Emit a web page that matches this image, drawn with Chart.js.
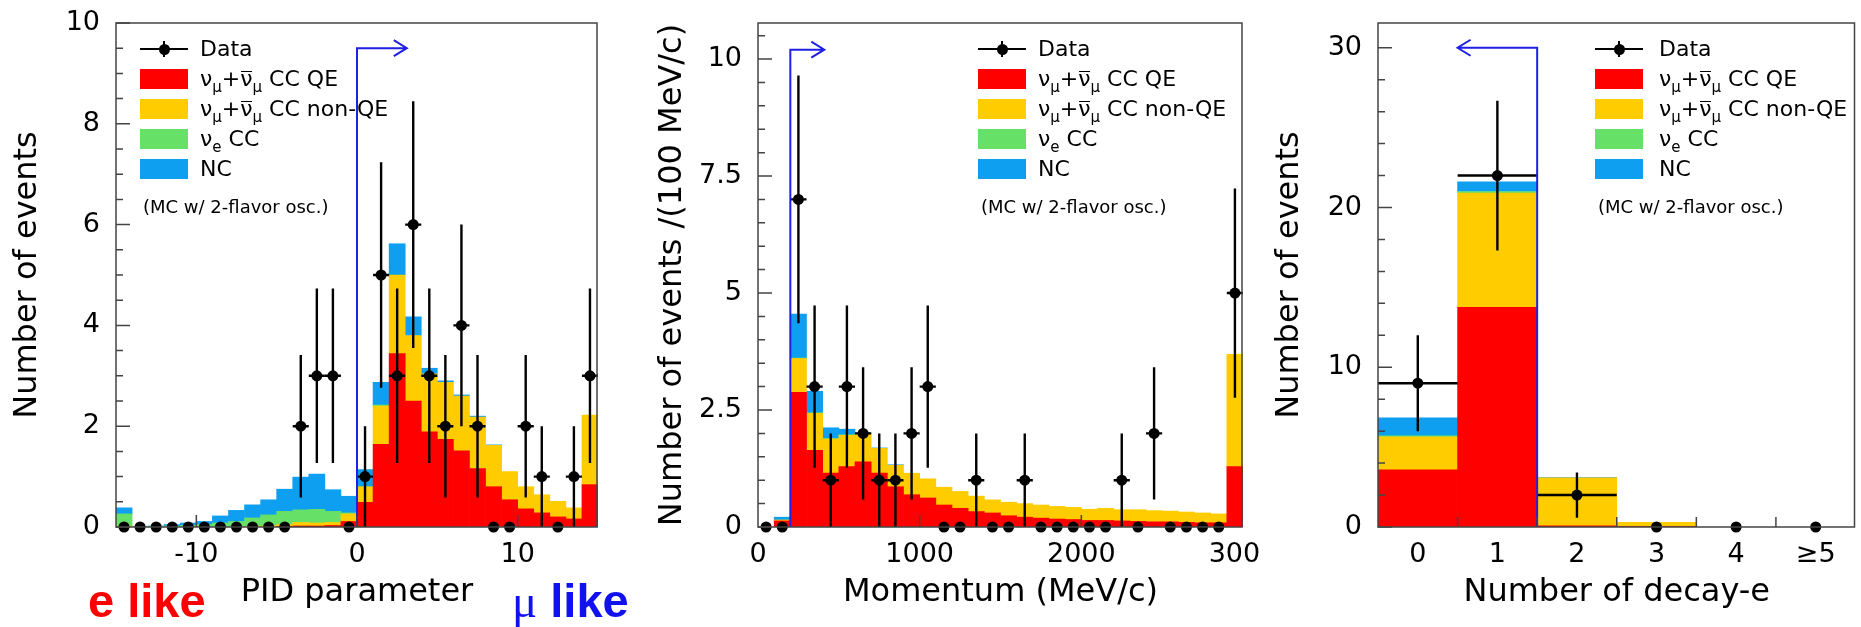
<!DOCTYPE html>
<html>
<head>
<meta charset="utf-8">
<title>mu-like selection: PID, momentum, decay-e</title>
<script src="https://cdn.jsdelivr.net/npm/chart.js@4.4.1/dist/chart.umd.min.js"></script>
<style>
  html, body { margin: 0; padding: 0; background: #fff; }
  body { position: relative; width: 1861px; height: 627px; overflow: hidden; font-family: 'DejaVu Sans', sans-serif; color: #000; }
  canvas { position: absolute; top: 0; background: #fff; }
  .sw { position: absolute; width: 48px; height: 20px; }
  .lt { position: absolute; font-size: 22px; line-height: 30px; height: 30px; white-space: nowrap; }
  .lt sub { font-size: 15px; vertical-align: -6px; line-height: 0; }
  .ov { position: relative; }
  .ov::before { content: ''; position: absolute; left: 1px; right: 1px; top: 5px; border-top: 1.6px solid #000; }
  .note { position: absolute; font-size: 18px; line-height: 20px; white-space: nowrap; }
  .mk { position: absolute; background: #000; }
  .tag { position: absolute; top: 577px; line-height: 47px; font-size: 47px; font-weight: bold; font-family: 'Liberation Sans', Arial, sans-serif; white-space: nowrap; }
</style>
</head>
<body>
<canvas id="pidChart" width="620" height="627" style="left:0"></canvas>
<canvas id="momChart" width="622" height="627" style="left:640px"></canvas>
<canvas id="dcyChart" width="599" height="627" style="left:1262px"></canvas>
<div class="tag" style="left:88px;color:#ff0000">e like</div>
<div class="tag" style="left:512px;color:#1010f0"><span style="font-family:'Liberation Serif',serif;font-weight:normal">μ</span> like</div>
<script>
// --- PID parameter (bins of 1) ---
const pidCenters = [-14.5, -13.5, -12.5, -11.5, -10.5, -9.5, -8.5, -7.5, -6.5, -5.5, -4.5, -3.5, -2.5, -1.5, -0.5,
                    0.5, 1.5, 2.5, 3.5, 4.5, 5.5, 6.5, 7.5, 8.5, 9.5, 10.5, 11.5, 12.5, 13.5, 14.5];
const pidCCQE  = [0, 0, 0, 0, 0, 0, 0, 0, 0, 0, 0.01, 0.02, 0.02, 0.03, 0.11,
                  0.49, 1.64, 3.44, 2.50, 1.89, 1.74, 1.51, 1.16, 0.80, 0.54, 0.36, 0.28, 0.20, 0.16, 0.84];
const pidNonQE = [0.02, 0, 0, 0, 0, 0, 0, 0, 0.01, 0.02, 0.04, 0.07, 0.06, 0.06, 0.15,
                  0.31, 0.76, 1.56, 1.30, 1.15, 1.13, 1.09, 1.02, 0.82, 0.56, 0.44, 0.36, 0.31, 0.22, 1.38];
const pidNueCC = [0.24, 0.005, 0.01, 0.02, 0.03, 0.05, 0.08, 0.11, 0.17, 0.22, 0.26, 0.25, 0.27, 0.22, 0.02,
                  0, 0.02, 0, 0, 0, 0, 0, 0, 0, 0, 0, 0, 0, 0, 0];
const pidNC    = [0.12, 0.005, 0.01, 0.03, 0.05, 0.06, 0.14, 0.22, 0.26, 0.30, 0.44, 0.65, 0.70, 0.43, 0.33,
                  0.34, 0.45, 0.62, 0.37, 0.11, 0.03, 0.02, 0.02, 0.01, 0, 0, 0, 0, 0, 0];
const pidData  = [0, 0, 0, 0, 0, 0, 0, 0, 0, 0, 0, 2, 3, 3, 0,
                  1, 5, 3, 6, 3, 2, 4, 2, 0, 0, 2, 1, 0, 1, 3];
const pidTicksX = [-10, 0, 10];
const pidTicksY = [0, 2, 4, 6, 8, 10];

// --- Momentum (100 MeV/c bins) ---
const momCenters = [50, 150, 250, 350, 450, 550, 650, 750, 850, 950, 1050, 1150, 1250, 1350, 1450,
                    1550, 1650, 1750, 1850, 1950, 2050, 2150, 2250, 2350, 2450, 2550, 2650, 2750, 2850, 2950];
const momCCQE  = [0, 0.13, 2.88, 1.64, 1.15, 1.29, 1.39, 1.15, 0.86, 0.69, 0.62, 0.47, 0.40, 0.33, 0.30,
                  0.24, 0.21, 0.19, 0.17, 0.16, 0.14, 0.14, 0.13, 0.12, 0.11, 0.11, 0.10, 0.09, 0.09, 1.29];
const momNonQE = [0, 0.02, 0.72, 0.79, 0.73, 0.67, 0.60, 0.53, 0.46, 0.46, 0.41, 0.38, 0.36, 0.33, 0.28,
                  0.29, 0.29, 0.28, 0.27, 0.26, 0.24, 0.26, 0.24, 0.25, 0.24, 0.23, 0.22, 0.21, 0.19, 2.40];
const momNueCC = [0, 0, 0.01, 0.01, 0.01, 0.01, 0, 0, 0, 0, 0, 0, 0, 0, 0,
                  0, 0, 0, 0, 0, 0, 0, 0, 0, 0, 0, 0, 0, 0, 0];
const momNC    = [0, 0.06, 0.94, 0.46, 0.23, 0.12, 0.02, 0.01, 0.01, 0, 0, 0, 0, 0, 0,
                  0, 0, 0, 0, 0, 0, 0, 0, 0, 0, 0, 0, 0, 0, 0];
const momData  = [0, 0, 7, 3, 1, 3, 2, 1, 1, 2, 3, 0, 0, 1, 0,
                  0, 1, 0, 0, 0, 0, 0, 1, 0, 2, 0, 0, 0, 0, 5];
const momTicksX = [0, 1000, 2000, 3000];
const momTicksY = [0, 2.5, 5, 7.5, 10];

// --- Number of decay-e ---
const dcyCenters = [0, 1, 2, 3, 4, 5];
const dcyCCQE  = [3.58, 13.75, 0.08, 0.02, 0, 0];
const dcyNonQE = [2.07, 7.15, 3.00, 0.28, 0, 0];
const dcyNueCC = [0.05, 0.10, 0, 0, 0, 0];
const dcyNC    = [1.13, 0.60, 0.01, 0, 0, 0];
const dcyData  = [9, 22, 2, 0, 0, 0];
const dcyTickLabels = ['0', '1', '2', '3', '4', '≥5'];
const dcyTicksY = [0, 10, 20, 30];

// legend texts (bottom to top of the stack)
const legendLabels = [
    'ν<sub>μ</sub>+<span class="ov">ν</span><sub>μ</sub> CC QE',
    'ν<sub>μ</sub>+<span class="ov">ν</span><sub>μ</sub> CC non-QE',
    'ν<sub>e</sub> CC',
    'NC'
];
const compColors = ['#ff0000', '#ffcc00', '#66e066', '#0f9ff0'];

const tickFont = { family: 'DejaVu Sans', size: 27, lineHeight: 1.2 };
const titleFont = { family: 'DejaVu Sans', size: 32, lineHeight: 1 };

// stacked histogram -> floating bar segments
function stackSegments(centers, comps) {
    const base = centers.map(() => 0);
    return comps.map(comp => {
        const seg = [];
        comp.forEach((v, i) => {
            if (v > 0) seg.push({ x: centers[i], y: [base[i], base[i] + v] });
            base[i] += v;
        });
        return seg;
    });
}

// error bars, cut arrow, frame and inner ticks (ROOT style)
const decorPlugin = {
    id: 'decor',
    afterDatasetsDraw(chart, args, o) {
        const { ctx, chartArea: a, scales: { x, y } } = chart;
        ctx.save();
        ctx.beginPath();
        ctx.rect(a.left, a.top, a.right - a.left, a.bottom - a.top);
        ctx.clip();
        ctx.strokeStyle = '#000';
        ctx.lineWidth = 2.4;
        o.centers.forEach((c, i) => {
            const n = o.counts[i];
            if (!n) return;
            const e = Math.sqrt(n);
            const px = x.getPixelForValue(c), py = y.getPixelForValue(n);
            ctx.beginPath();
            ctx.moveTo(px, y.getPixelForValue(Math.max(0, n - e)));
            ctx.lineTo(px, y.getPixelForValue(n + e));
            ctx.moveTo(x.getPixelForValue(c - o.halfBin), py);
            ctx.lineTo(x.getPixelForValue(c + o.halfBin), py);
            ctx.stroke();
        });
        ctx.restore();

        // selection cut arrow
        const ar = o.arrow;
        const cx = x.getPixelForValue(ar.cut), ty = y.getPixelForValue(ar.level), tx = x.getPixelForValue(ar.tip);
        const d = Math.sign(tx - cx);
        ctx.save();
        ctx.strokeStyle = '#1f1fe6';
        ctx.lineWidth = 2;
        ctx.beginPath();
        ctx.moveTo(cx, y.getPixelForValue(0));
        ctx.lineTo(cx, ty);
        ctx.lineTo(tx, ty);
        ctx.moveTo(tx - d * 13, ty - 8);
        ctx.lineTo(tx, ty);
        ctx.lineTo(tx - d * 13, ty + 8);
        ctx.stroke();

        // frame + ticks
        ctx.strokeStyle = '#444';
        ctx.lineWidth = 1.5;
        ctx.strokeRect(a.left, a.top, a.right - a.left - 1, a.bottom - a.top);
        ctx.beginPath();
        for (let v = y.min; v <= y.max + 1e-9; v += o.yMinorStep) {
            const py = y.getPixelForValue(v);
            const major = y.ticks.some(t => Math.abs(t.value - v) < 1e-6);
            ctx.moveTo(a.left, py);
            ctx.lineTo(a.left + (major ? 14 : 7), py);
        }
        o.xMarks.forEach(v => {
            const px = x.getPixelForValue(v);
            ctx.moveTo(px, a.bottom);
            ctx.lineTo(px, a.bottom - o.xMarkLen);
        });
        ctx.stroke();
        ctx.restore();
    }
};

function histoChart(id, cfg) {
    const segs = stackSegments(cfg.centers, cfg.comps);
    const datasets = segs.map((seg, k) => ({
        type: 'bar',
        data: seg,
        backgroundColor: compColors[k],
        borderWidth: 0,
        grouped: false,
        barPercentage: 1,
        categoryPercentage: 1
    }));
    datasets.push({
        type: 'scatter',
        data: cfg.centers.map((c, i) => ({ x: c, y: cfg.counts[i] })),
        pointRadius: 5.5,
        pointBackgroundColor: '#000',
        pointBorderWidth: 0,
        clip: false,
        order: -1
    });
    return new Chart(document.getElementById(id), {
        type: 'bar',
        data: { datasets },
        options: {
            responsive: false,
            animation: false,
            events: [],
            layout: { padding: { left: 0, top: 23, right: cfg.padRight, bottom: 0 } },
            plugins: {
                legend: { display: false },
                tooltip: { enabled: false },
                decor: {
                    centers: cfg.centers, counts: cfg.counts, halfBin: cfg.halfBin,
                    arrow: cfg.arrow, yMinorStep: cfg.yMinorStep, xMarks: cfg.xMarks, xMarkLen: cfg.xMarkLen
                }
            },
            scales: {
                x: {
                    type: 'linear', min: cfg.xMin, max: cfg.xMax, offset: false,
                    afterBuildTicks: s => { s.ticks = cfg.xTicks.map(v => ({ value: v })); },
                    afterFit: s => { s.height = 100; s.paddingLeft = 0; s.paddingRight = 0; },
                    grid: { display: false, drawTicks: false },
                    border: { display: false },
                    ticks: { font: tickFont, color: '#000', padding: 12, maxRotation: 0, autoSkip: false,
                             callback: cfg.xLabel || (v => String(v)) },
                    title: { display: true, text: cfg.xTitle, font: titleFont, color: '#000', padding: { top: 0, bottom: 18 } }
                },
                y: {
                    type: 'linear', min: 0, max: cfg.yMax,
                    afterBuildTicks: s => { s.ticks = cfg.yTicks.map(v => ({ value: v })); },
                    afterFit: s => { s.width = cfg.leftW; s.paddingTop = 0; s.paddingBottom = 0; },
                    grid: { display: false, drawTicks: false },
                    border: { display: false },
                    ticks: { font: tickFont, color: '#000', padding: 16, autoSkip: false, callback: v => String(v) },
                    title: { display: true, text: cfg.yTitle, font: titleFont, color: '#000', padding: { top: cfg.yTitlePad, bottom: 0 } }
                }
            }
        },
        plugins: [decorPlugin]
    });
}

// HTML legend (needs sub/superscripts)
function addLegend(sx, tx) {
    const rows = [49, 79, 109, 139, 169];
    const add = (cls, style, html) => {
        const el = document.createElement('div');
        el.className = cls;
        Object.assign(el.style, style);
        if (html) el.innerHTML = html;
        document.body.appendChild(el);
    };
    // Data marker
    add('mk', { left: sx + 'px', top: (rows[0] - 1) + 'px', width: '48px', height: '2px' });
    add('mk', { left: (sx + 23) + 'px', top: (rows[0] - 8) + 'px', width: '2px', height: '16px' });
    add('mk', { left: (sx + 18.5) + 'px', top: (rows[0] - 5.5) + 'px', width: '11px', height: '11px', borderRadius: '50%' });
    add('lt', { left: tx + 'px', top: (rows[0] - 15) + 'px' }, 'Data');
    legendLabels.forEach((lbl, k) => {
        add('sw', { left: sx + 'px', top: (rows[k + 1] - 10) + 'px', background: compColors[k] });
        add('lt', { left: tx + 'px', top: (rows[k + 1] - 15) + 'px' }, lbl);
    });
    add('note', { left: (sx + 3) + 'px', top: '197px' }, '(MC w/ 2-flavor osc.)');
}

window.onload = () => {
    histoChart('pidChart', {
        centers: pidCenters, counts: pidData, comps: [pidCCQE, pidNonQE, pidNueCC, pidNC],
        xMin: -15, xMax: 15, yMax: 10, xTicks: pidTicksX, yTicks: pidTicksY,
        leftW: 116, padRight: 22, halfBin: 0.5, yMinorStep: 0.5,
        xMarks: [-10, 0, 10], xMarkLen: 12,
        arrow: { cut: 0, level: 9.5, tip: 3.1 },
        xTitle: 'PID parameter', yTitle: 'Number of events', yTitlePad: 12
    });
    histoChart('momChart', {
        centers: momCenters, counts: momData, comps: [momCCQE, momNonQE, momNueCC, momNC],
        xMin: 0, xMax: 3000, yMax: 10.77, xTicks: momTicksX, yTicks: momTicksY,
        leftW: 118, padRight: 19, halfBin: 50, yMinorStep: 0.5,
        xMarks: [1000, 2000], xMarkLen: 12,
        arrow: { cut: 200, level: 10.2, tip: 410 },
        xTitle: 'Momentum (MeV/c)', yTitle: 'Number of events /(100 MeV/c)', yTitlePad: 17
    });
    histoChart('dcyChart', {
        centers: dcyCenters, counts: dcyData, comps: [dcyCCQE, dcyNonQE, dcyNueCC, dcyNC],
        xMin: -0.5, xMax: 5.5, yMax: 31.55, xTicks: dcyCenters, yTicks: dcyTicksY,
        xLabel: (v, i) => dcyTickLabels[i],
        leftW: 116, padRight: 0, halfBin: 0.5, yMinorStep: 2,
        xMarks: [0.5, 1.5, 2.5, 3.5, 4.5], xMarkLen: 10,
        arrow: { cut: 1.5, level: 30, tip: 0.5 },
        xTitle: 'Number of decay-e', yTitle: 'Number of events', yTitlePad: 12
    });
    addLegend(140, 200);
    addLegend(978, 1038);
    addLegend(1595, 1659);
};
</script>
</body>
</html>
